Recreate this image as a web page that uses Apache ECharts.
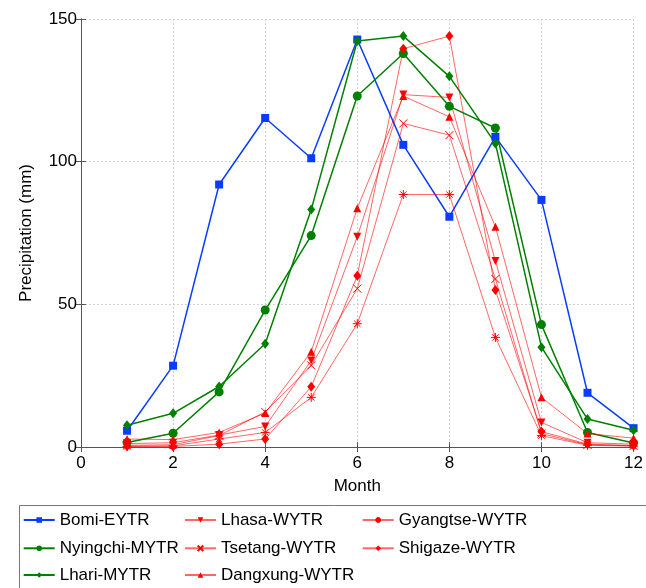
<!DOCTYPE html>
<html><head><meta charset="utf-8">
<script src="https://cdn.jsdelivr.net/npm/echarts@6/dist/echarts.min.js"></script>
<style>html,body{margin:0;padding:0;background:#fff}#c{width:646px;height:588px}</style>
</head><body><div id="c"></div>
<script>
var months = [1,2,3,4,5,6,7,8,9,10,11,12];
var bomi     = [5.7, 28.5, 92, 115.3, 101.2, 142.8, 105.9, 80.7, 108.7, 86.6, 19, 6.6];
var nyingchi = [1.6, 4.8, 19.3, 48, 74.1, 123, 137.9, 119.4, 111.8, 42.9, 5.1, 1.4];
var lhari    = [7.6, 11.8, 21.2, 36.2, 83.2, 142.3, 144, 129.9, 106.4, 35, 9.8, 5.9];
var lhasa    = [1.2, 1.5, 4.2, 7.2, 30.3, 73.7, 123.5, 122.5, 65.2, 8.6, 1.5, 1.0];
var tsetang  = [0.6, 0.8, 4.0, 12.3, 28.6, 55.5, 113.4, 109.3, 58.9, 4.7, 0.8, 0.4];
var dangxung = [2.8, 2.6, 5.1, 11.9, 33.4, 83.7, 123, 115.7, 77.2, 17.4, 4.7, 3.1];
var gyangtse = [0.2, 0.4, 2.8, 5.1, 17.4, 43.2, 88.5, 88.5, 38.4, 4.0, 0.6, 0.3];
var shigaze  = [0.3, 0.2, 1.0, 2.8, 21.1, 60, 139.6, 144, 55, 5.4, 1.0, 0.5];
var names = ['Bomi-EYTR','Nyingchi-MYTR','Lhari-MYTR','Lhasa-WYTR','Tsetang-WYTR','Dangxung-WYTR','Gyangtse-WYTR','Shigaze-WYTR'];

function pairs(v){ return months.map(function(m,i){ return [m, v[i]]; }); }
var BLUE = '#0a3cff', GREEN = '#008000', RED = '#ff0000';
var crossPath = 'path://M0,0L10,10M10,0L0,10';
var starPath = 'path://M5,0L5,10M0,5L10,5M1.5,1.5L8.5,8.5M8.5,1.5L1.5,8.5';
function ser(name, data, color, symbol, size, width, opacity, stroked){
  var s = {
    name: name, type: 'line', data: pairs(data), symbol: symbol, symbolSize: size,
    lineStyle: {color: color, width: width, opacity: opacity},
    itemStyle: {color: color},
    emphasis: {disabled: true}, animation: false, z: 2
  };
  if (stroked) s.itemStyle = {color: 'rgba(0,0,0,0)', borderColor: color, borderWidth: 1};
  return s;
}
var series = [
  ser(names[0], bomi, BLUE, 'rect', 8, 1.5, 1),
  ser(names[1], nyingchi, GREEN, 'circle', 9, 1.5, 1),
  ser(names[2], lhari, GREEN, 'diamond', [8,10], 1.5, 1),
  ser(names[3], lhasa, RED, 'triangle', 8, 1, 0.6),
  ser(names[4], tsetang, RED, crossPath, 8, 1, 0.6, true),
  ser(names[5], dangxung, RED, 'triangle', 8, 1, 0.6),
  ser(names[6], gyangtse, RED, starPath, 9, 1, 0.6, true),
  ser(names[7], shigaze, RED, 'diamond', [8,10], 1, 0.6)
];
series[3].symbolRotate = 180;

var font = 'Liberation Sans, Arial, sans-serif';
var colLeft = [22.7, 184, 361.7];
var rowCenter = [520, 548.3, 575];
function legendItem(idx, col, row){
  return {
    left: colLeft[col], top: rowCenter[row] - 10, orient: 'horizontal', data: [names[idx]],
    itemWidth: 31, itemHeight: 7, padding: 0,
    textStyle: {fontFamily: font, fontSize: 17, color: '#000', lineHeight: 20, padding: [0,0,0,0]},
    selectedMode: false
  };
}
var legends = [
  legendItem(0,0,0), legendItem(1,0,1), legendItem(2,0,2),
  legendItem(3,1,0), legendItem(4,1,1), legendItem(5,1,2),
  legendItem(6,2,0), legendItem(7,2,1)
];
var axisLine = {show: true, lineStyle: {color: '#555', width: 1}};
var option = {
  backgroundColor: '#fff',
  animation: false,
  grid: {left: 81, right: 9, top: 19, bottom: 141, containLabel: false},
  xAxis: [{
    type: 'value', min: 0, max: 12, interval: 2, position: 'bottom',
    name: 'Month', nameLocation: 'middle', nameGap: 31,
    nameTextStyle: {fontFamily: font, fontSize: 17, color: '#000'},
    axisLine: axisLine, axisTick: {inside: true, length: 5, lineStyle: {color: '#555'}},
    axisLabel: {fontFamily: font, fontSize: 17, color: '#000', margin: 8, showMaxLabel: true},
    splitLine: {show: true, lineStyle: {color: '#d0d0d0', type: [2,2], width: 1}}
  },{
    type: 'value', min: 0, max: 12, interval: 2, position: 'top',
    axisLine: axisLine, axisTick: {inside: true, length: 5, lineStyle: {color: '#555'}},
    axisLabel: {show: false}, splitLine: {show: false}
  }],
  yAxis: [{
    type: 'value', min: 0, max: 150, interval: 50, position: 'left',
    name: 'Precipitation (mm)', nameLocation: 'middle', nameGap: 46,
    nameTextStyle: {fontFamily: font, fontSize: 17, color: '#000'},
    axisLine: axisLine, axisTick: {inside: true, length: 5, lineStyle: {color: '#555'}},
    axisLabel: {fontFamily: font, fontSize: 17, color: '#000', margin: 4},
    splitLine: {show: true, lineStyle: {color: '#d0d0d0', type: [2,2], width: 1}}
  },{
    type: 'value', min: 0, max: 150, interval: 50, position: 'right',
    axisLine: axisLine, axisTick: {inside: true, length: 5, lineStyle: {color: '#555'}},
    axisLabel: {show: false}, splitLine: {show: false}
  }],
  legend: legends,
  graphic: [{
    type: 'rect', left: 17, top: 503, shape: {width: 660, height: 100},
    style: {fill: 'none', stroke: '#777', lineWidth: 1}, z: -1
  }],
  series: series
};
var chart = echarts.init(document.getElementById('c'), null, {renderer: 'canvas'});
chart.setOption(option);
</script></body></html>
